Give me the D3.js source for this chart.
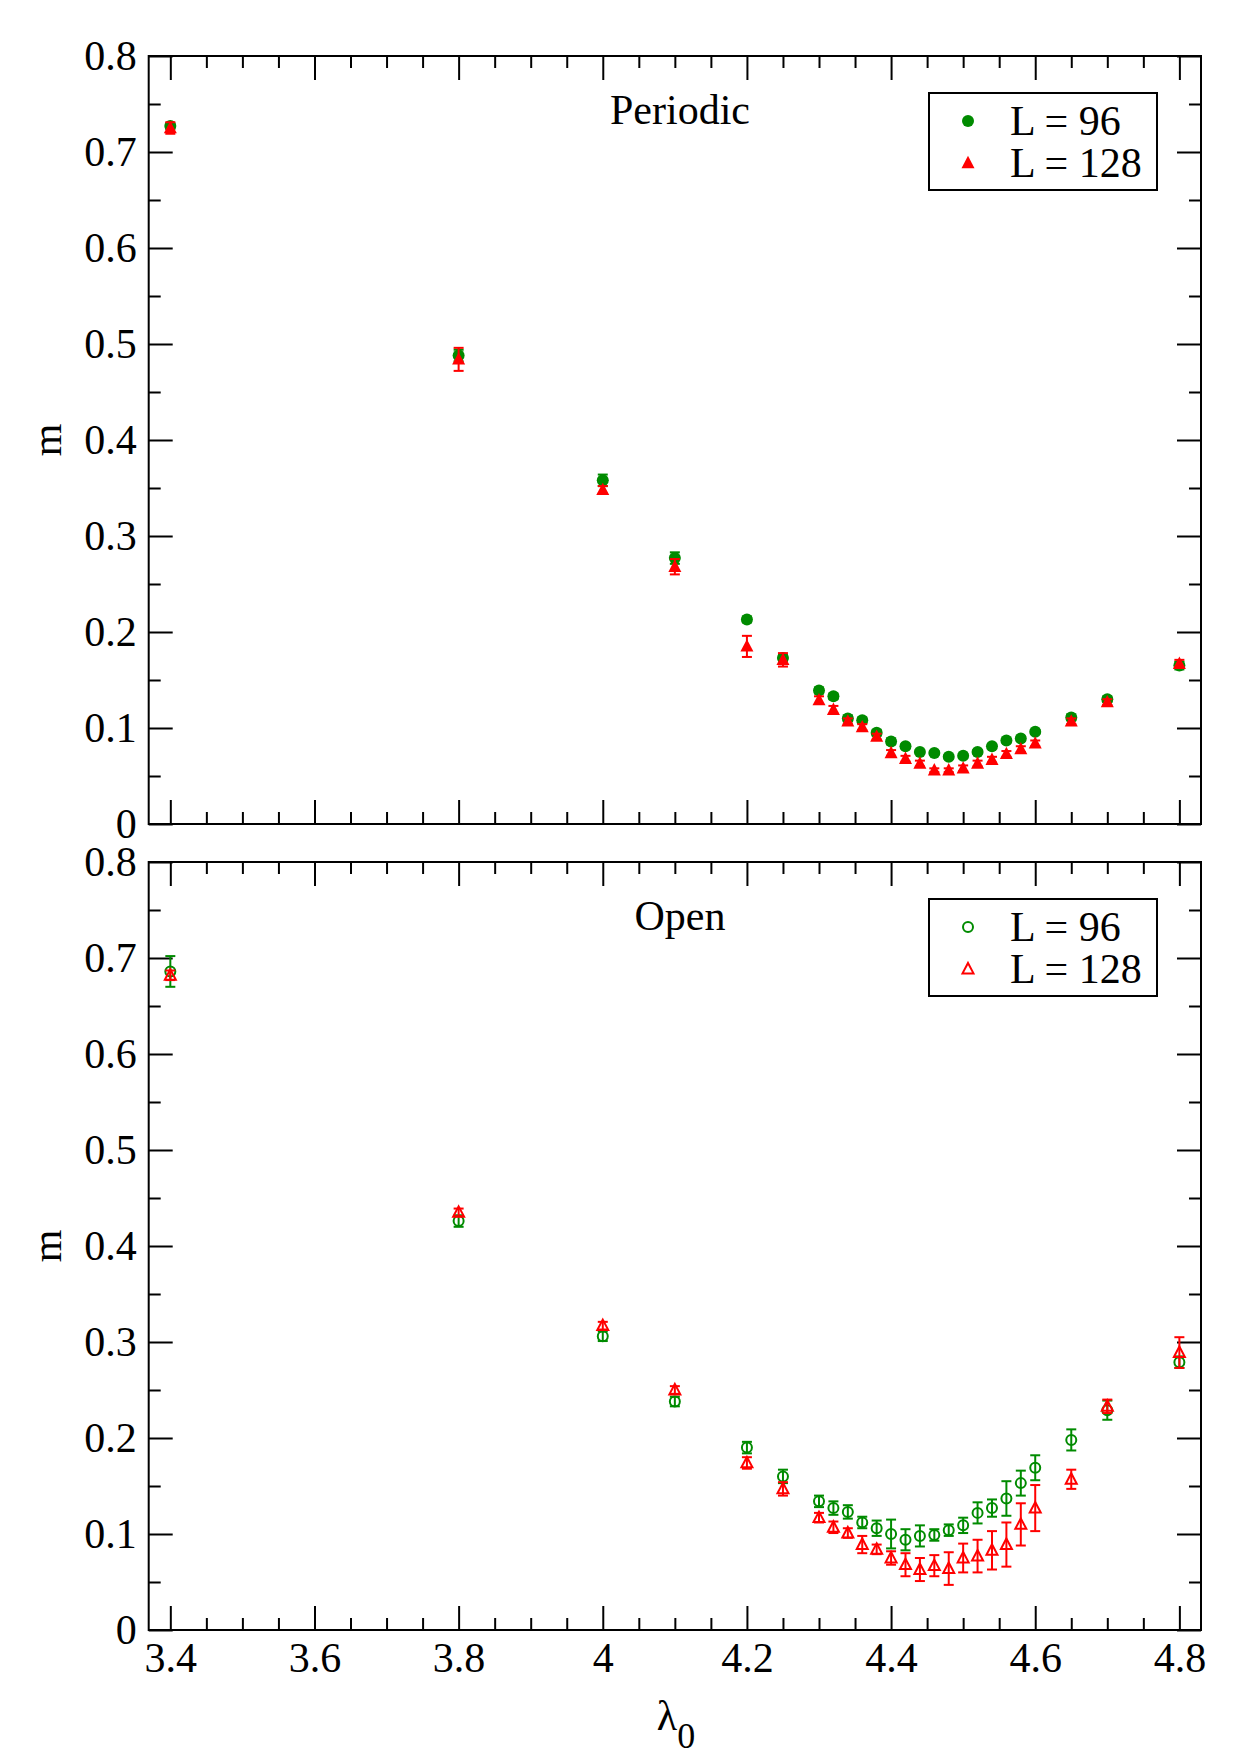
<!DOCTYPE html>
<html>
<head>
<meta charset="utf-8">
<script src="https://cdn.jsdelivr.net/npm/d3@7"></script>
<style>
  body { margin: 0; background: #fff; }
</style>
</head>
<body>
<div id="chart"></div>
<script>
// lambda_0 values (same for every set)
var lambdas = [3.4, 3.8, 4.0, 4.1, 4.2, 4.25, 4.3, 4.32, 4.34, 4.36, 4.38, 4.4, 4.42,
    4.44, 4.46, 4.48, 4.5, 4.52, 4.54, 4.56, 4.58, 4.6, 4.65, 4.7, 4.8];

// Periodic boundary conditions
var periodicL96 = [0.727, 0.488, 0.358, 0.277, 0.213, 0.173, 0.139, 0.133, 0.110, 0.108, 0.095, 0.086, 0.081,
    0.075, 0.074, 0.070, 0.071, 0.075, 0.081, 0.087, 0.089, 0.096, 0.111, 0.130, 0.165];
var periodicL96Err = [0.003, 0.006, 0.006, 0.006, 0.003, 0.003, 0.003, 0.003, 0.003, 0.003, 0.003, 0.003, 0.002,
    0.002, 0.002, 0.002, 0.002, 0.002, 0.002, 0.002, 0.002, 0.002, 0.003, 0.003, 0.004];
var periodicL128 = [0.725, 0.484, 0.348, 0.268, 0.185, 0.171, 0.129, 0.119, 0.107, 0.101, 0.091, 0.074, 0.068,
    0.063, 0.056, 0.056, 0.058, 0.063, 0.067, 0.073, 0.078, 0.084, 0.107, 0.127, 0.167];
var periodicL128Err = [0.006, 0.012, 0.004, 0.008, 0.011, 0.007, 0.004, 0.004, 0.003, 0.003, 0.003, 0.003, 0.003,
    0.003, 0.002, 0.002, 0.003, 0.003, 0.003, 0.003, 0.003, 0.003, 0.003, 0.003, 0.004];

// Open boundary conditions
var openL96 = [0.686, 0.426, 0.306, 0.238, 0.190, 0.160, 0.134, 0.127, 0.123, 0.112, 0.106, 0.100, 0.094,
    0.098, 0.099, 0.104, 0.109, 0.122, 0.127, 0.137, 0.153, 0.169, 0.198, 0.229, 0.279];
var openL96Err = [0.016, 0.006, 0.005, 0.005, 0.006, 0.007, 0.006, 0.007, 0.007, 0.006, 0.008, 0.015, 0.011,
    0.011, 0.006, 0.006, 0.008, 0.011, 0.009, 0.018, 0.013, 0.013, 0.011, 0.010, 0.006];
var openL128 = [0.682, 0.435, 0.317, 0.250, 0.174, 0.147, 0.117, 0.107, 0.101, 0.089, 0.084, 0.075, 0.068,
    0.063, 0.067, 0.064, 0.075, 0.077, 0.083, 0.089, 0.110, 0.127, 0.157, 0.233, 0.289];
var openL128Err = [0.005, 0.004, 0.004, 0.004, 0.006, 0.007, 0.005, 0.006, 0.005, 0.009, 0.005, 0.007, 0.012,
    0.012, 0.011, 0.017, 0.015, 0.017, 0.020, 0.023, 0.022, 0.024, 0.010, 0.007, 0.016];

var seriesLabels = ["L = 96", "L = 128"];
var panelTitles = ["Periodic", "Open"];
var xTicks = [3.4, 3.6, 3.8, 4.0, 4.2, 4.4, 4.6, 4.8];
var yTicks = [0, 0.1, 0.2, 0.3, 0.4, 0.5, 0.6, 0.7, 0.8];

function init() {
    var width = 1240;
    var height = 1755;
    var font = "'Liberation Serif', 'Times New Roman', serif";
    var green = "#008b00";
    var red = "#ff0000";

    var svg = d3.select("#chart")
        .append("svg")
        .attr("width", width)
        .attr("height", height)
        .style("font-family", font);

    var left = 148.7, right = 1201;
    var x = d3.scaleLinear().domain([3.37, 4.83]).range([left, right]);

    // minor ticks every 0.05, skipping the labelled ones
    var xMinor = d3.range(0, 29).map(i => +(3.4 + i * 0.05).toFixed(2))
        .filter(v => xTicks.indexOf(v) < 0);
    var yMinor = d3.range(0, 8).map(i => +(0.05 + i * 0.1).toFixed(2));

    var fmt = d => String(+d.toFixed(2));

    var panels = [
        { title: panelTitles[0], top: 56, bottom: 824, open: false, xLabels: false,
          sets: [[periodicL96, periodicL96Err, green], [periodicL128, periodicL128Err, red]] },
        { title: panelTitles[1], top: 862, bottom: 1630, open: true, xLabels: true,
          sets: [[openL96, openL96Err, green], [openL128, openL128Err, red]] }
    ];

    function addAxis(axisFn, scale, values, size, transform, labels) {
        var axis = axisFn(scale)
            .tickValues(values)
            .tickSizeInner(-size)
            .tickSizeOuter(0)
            .tickPadding(12)
            .tickFormat(labels ? fmt : "");
        var g = svg.append("g")
            .attr("transform", transform)
            .call(axis)
            .attr("font-family", font)
            .attr("font-size", 42);
        g.select(".domain").remove();
        g.selectAll("line").attr("stroke", "#000").attr("stroke-width", 2);
        g.selectAll("text").attr("fill", "#000");
    }

    // marker shapes
    function triangle(s) {
        return "M0," + (-s * 1.1) + "L" + s + "," + (s * 0.8) + "L" + (-s) + "," + (s * 0.8) + "Z";
    }

    function drawMarker(g, open, idx, color) {
        if (idx === 0) {
            g.append("circle")
                .attr("r", open ? 5 : 6)
                .attr("fill", open ? "none" : color)
                .attr("stroke", open ? color : "none")
                .attr("stroke-width", 2);
        } else {
            g.append("path")
                .attr("d", triangle(open ? 5.5 : 6.5))
                .attr("fill", open ? "none" : color)
                .attr("stroke", open ? color : "none")
                .attr("stroke-width", 2);
        }
    }

    panels.forEach(p => {
        var y = d3.scaleLinear().domain([0, 0.8]).range([p.bottom, p.top]);

        // ticks on all four sides, pointing inwards
        addAxis(d3.axisBottom, x, xTicks, 24, `translate(0,${p.bottom})`, p.xLabels);
        addAxis(d3.axisBottom, x, xMinor, 12, `translate(0,${p.bottom})`, false);
        addAxis(d3.axisTop, x, xTicks, 24, `translate(0,${p.top})`, false);
        addAxis(d3.axisTop, x, xMinor, 12, `translate(0,${p.top})`, false);
        addAxis(d3.axisLeft, y, yTicks, 24, `translate(${left},0)`, true);
        addAxis(d3.axisLeft, y, yMinor, 12, `translate(${left},0)`, false);
        addAxis(d3.axisRight, y, yTicks, 24, `translate(${right},0)`, false);
        addAxis(d3.axisRight, y, yMinor, 12, `translate(${right},0)`, false);

        svg.append("rect")
            .attr("x", left)
            .attr("y", p.top)
            .attr("width", right - left)
            .attr("height", p.bottom - p.top)
            .attr("fill", "none")
            .attr("stroke", "#000")
            .attr("stroke-width", 2);

        // y axis title
        svg.append("text")
            .attr("transform", `translate(61,${(p.top + p.bottom) / 2}) rotate(-90)`)
            .attr("text-anchor", "middle")
            .attr("font-size", 42)
            .text("m");

        // panel title
        svg.append("text")
            .attr("x", 680)
            .attr("y", p.top + 68)
            .attr("text-anchor", "middle")
            .attr("font-size", 42)
            .text(p.title);

        // data sets: error bars then symbols
        p.sets.forEach((s, si) => {
            var vals = s[0], errs = s[1], color = s[2];
            var pts = lambdas.map((l, i) => ({ l: l, v: vals[i], e: errs[i] }));
            var g = svg.append("g");

            var bars = g.selectAll(".err")
                .data(pts)
                .enter()
                .append("g")
                .attr("class", "err")
                .attr("stroke", color)
                .attr("stroke-width", 2);
            bars.append("line")
                .attr("x1", d => x(d.l)).attr("x2", d => x(d.l))
                .attr("y1", d => y(d.v + d.e)).attr("y2", d => y(d.v - d.e));
            bars.append("line")
                .attr("x1", d => x(d.l) - 5).attr("x2", d => x(d.l) + 5)
                .attr("y1", d => y(d.v + d.e)).attr("y2", d => y(d.v + d.e));
            bars.append("line")
                .attr("x1", d => x(d.l) - 5).attr("x2", d => x(d.l) + 5)
                .attr("y1", d => y(d.v - d.e)).attr("y2", d => y(d.v - d.e));

            g.selectAll(".pt")
                .data(pts)
                .enter()
                .append("g")
                .attr("class", "pt")
                .attr("transform", d => `translate(${x(d.l)},${y(d.v)})`)
                .each(function () { drawMarker(d3.select(this), p.open, si, color); });
        });

        // legend
        var lt = p.top + 37;
        var legend = svg.append("g");
        legend.append("rect")
            .attr("x", 929)
            .attr("y", lt)
            .attr("width", 228)
            .attr("height", 97)
            .attr("fill", "#fff")
            .attr("stroke", "#000")
            .attr("stroke-width", 2);
        p.sets.forEach((s, si) => {
            var mg = legend.append("g")
                .attr("transform", `translate(968,${lt + 28 + si * 42})`);
            drawMarker(mg, p.open, si, s[2]);
            legend.append("text")
                .attr("x", 1010)
                .attr("y", lt + 42 + si * 42)
                .attr("font-size", 42)
                .text(seriesLabels[si]);
        });
    });

    // x axis title: lambda with subscript 0
    var xt = svg.append("text")
        .attr("x", 676)
        .attr("y", 1730)
        .attr("text-anchor", "middle")
        .attr("font-size", 42);
    xt.append("tspan").text("λ");
    xt.append("tspan").attr("font-size", 36).attr("dy", 18).text("0");
}

window.onload = init;
</script>
</body>
</html>
